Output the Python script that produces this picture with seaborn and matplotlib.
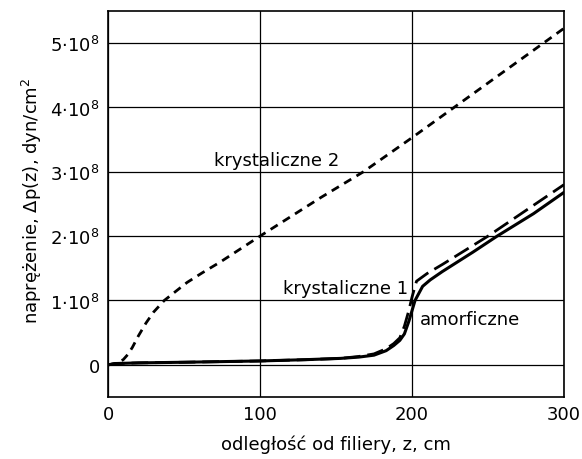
"""
Naprężenie w funkcji odległości od filiery
"""
import numpy as np
import pandas as pd
import matplotlib
matplotlib.use("Agg")
import matplotlib.pyplot as plt
import seaborn as sns

# Dane (naprężenie w jednostkach 1e8 dyn/cm2)
z_kr2 = [0, 5, 10, 13, 16, 20, 25, 30, 37, 45, 52, 62, 74, 87, 100,
         120, 140, 168, 200, 230, 260, 300]
p_kr2 = [0, 0.02, 0.08, 0.16, 0.27, 0.45, 0.65, 0.82, 1.0, 1.15, 1.28, 1.43,
         1.6, 1.8, 2.0, 2.3, 2.6, 3.0, 3.53, 4.04, 4.55, 5.23]

z_kr1 = [0, 5, 20, 50, 100, 130, 153, 165, 175, 183, 188, 192, 195, 198,
         200, 203, 210, 220, 235, 250, 275, 300]
p_kr1 = [0, 0.02, 0.03, 0.04, 0.06, 0.08, 0.1, 0.13, 0.17, 0.25, 0.33, 0.42,
         0.6, 0.85, 1.05, 1.3, 1.42, 1.56, 1.78, 2.0, 2.4, 2.8]

z_am = [0, 5, 20, 50, 100, 130, 153, 165, 175, 183, 188, 192, 195, 198,
        202, 207, 212, 220, 240, 256, 280, 300]
p_am = [0, 0.02, 0.03, 0.04, 0.06, 0.08, 0.1, 0.12, 0.15, 0.22, 0.3, 0.38,
        0.48, 0.68, 1.0, 1.22, 1.32, 1.45, 1.75, 2.0, 2.35, 2.68]

x_ticks = [0, 100, 200, 300]
y_ticks = [0, 1, 2, 3, 4, 5]
y_tick_labels = ["0"] + [rf"${n}{{\cdot}}10^{{8}}$" for n in range(1, 6)]

sns.set_style("white")
plt.rcParams["font.family"] = ["DejaVu Sans"]
plt.rcParams["mathtext.fontset"] = "dejavusans"
plt.rcParams["text.color"] = "black"
plt.rcParams["axes.labelcolor"] = "black"

fig = plt.figure(figsize=(5.82, 4.6), dpi=100)
ax = fig.add_axes([0.1856, 0.1348, 0.7834, 0.8392])

# Krzywe
sns.lineplot(x=z_kr2, y=p_kr2, ax=ax, color="black", linewidth=2.0,
             linestyle=(0, (3, 2.2)))
sns.lineplot(x=z_kr1, y=p_kr1, ax=ax, color="black", linewidth=2.0,
             linestyle=(0, (6, 2.5)))
sns.lineplot(x=z_am, y=p_am, ax=ax, color="black", linewidth=2.2)

# Opisy krzywych
ax.text(111, 3.05, "krystaliczne 2", ha="center", va="bottom", fontsize=13)
ax.text(156, 1.2, "krystaliczne 1", ha="center", va="center", fontsize=13)
ax.text(238, 0.71, "amorficzne", ha="center", va="center", fontsize=13)

# Osie i siatka
ax.set_xlim(0, 300)
ax.set_ylim(-0.5, 5.5)
ax.set_xticks(x_ticks)
ax.set_yticks(y_ticks)
ax.set_yticklabels(y_tick_labels)
ax.grid(True, color="black", linewidth=0.9)
for s in ax.spines.values():
    s.set_color("black")
    s.set_linewidth(1.2)
ax.tick_params(length=0, labelsize=13, pad=6, colors="black")

ax.set_xlabel("odległość od filiery, z, cm", fontsize=13, labelpad=8)
ax.set_ylabel(r"naprężenie, Δp(z), dyn/cm$^2$", fontsize=13)
ax.yaxis.set_label_coords(-0.14, 0.51)

fig.savefig("out.png", dpi=100)
